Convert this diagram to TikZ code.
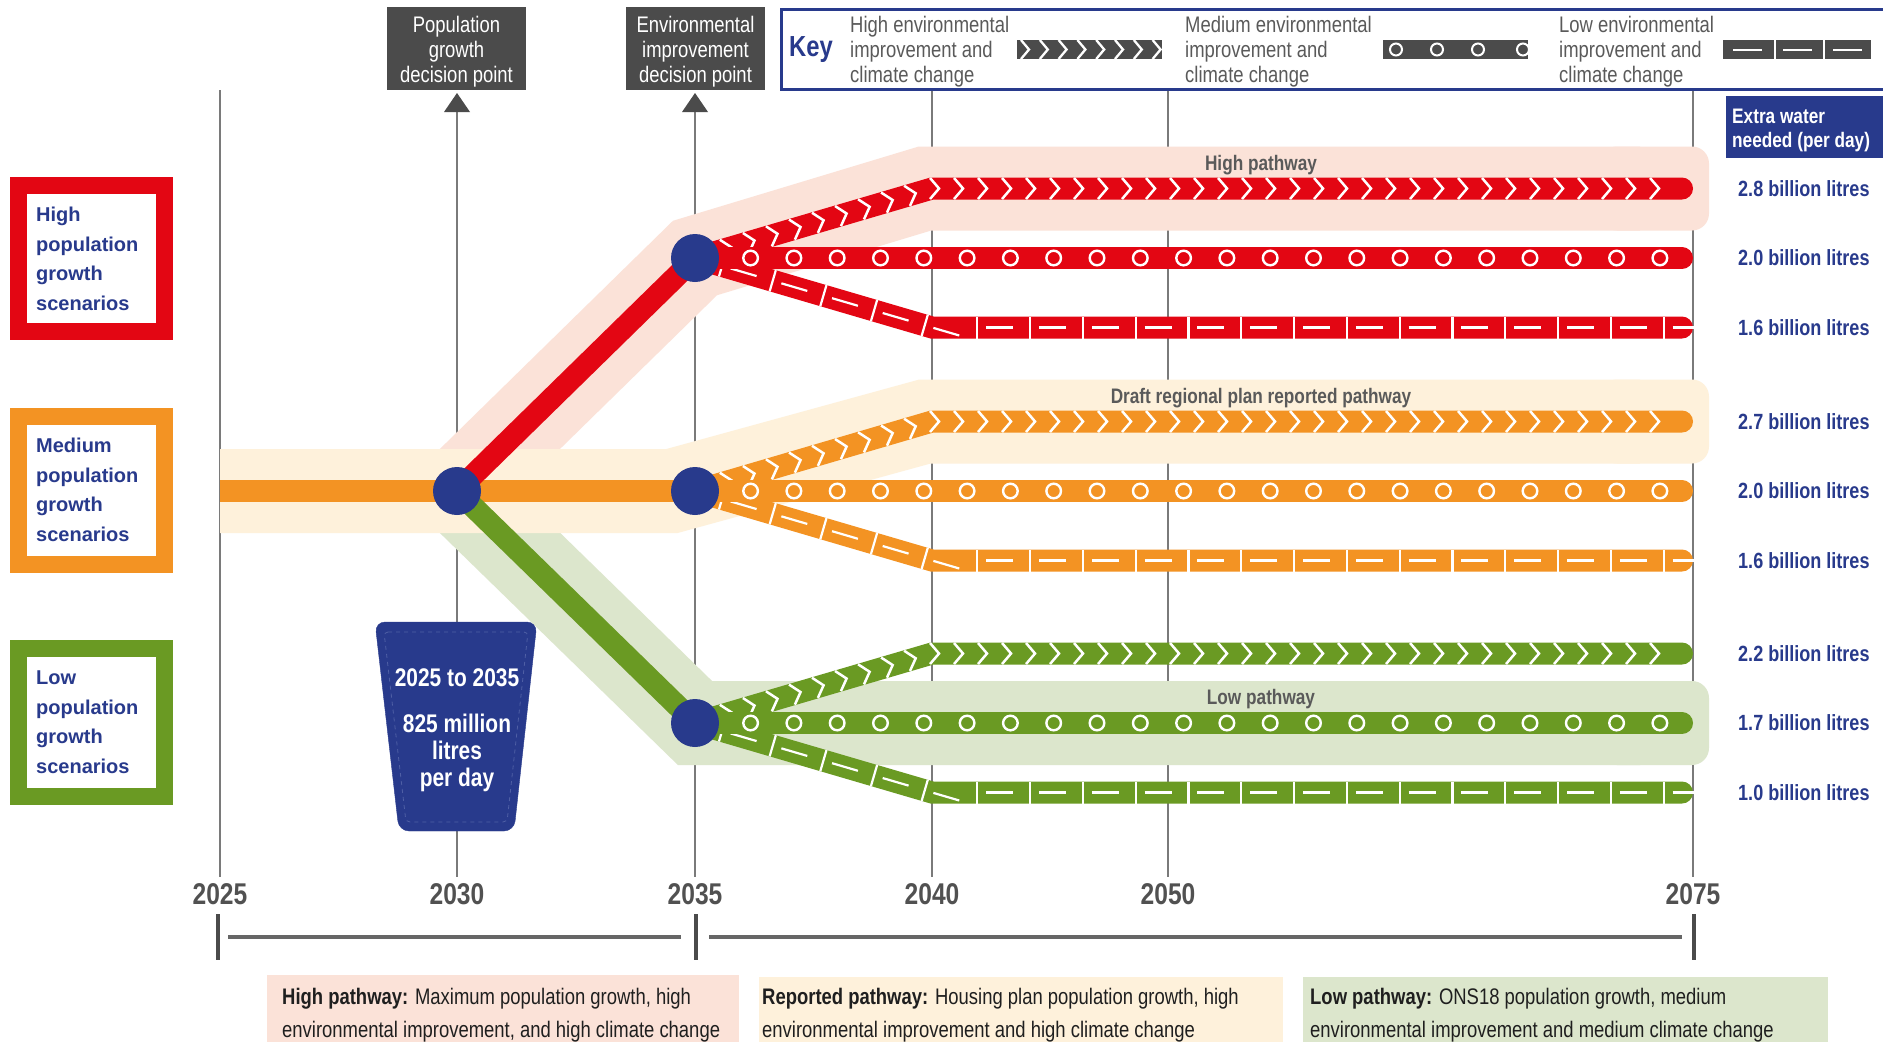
\documentclass[tikz,border=0pt]{standalone}
\usepackage{fontspec}
\setmainfont{Liberation Sans}
\newfontfamily\cond[FakeStretch=0.82]{Liberation Sans}
\usetikzlibrary{decorations.markings,calc}
\definecolor{cred}{HTML}{E30613}
\definecolor{corange}{HTML}{F39323}
\definecolor{cgreen}{HTML}{6A9A23}
\definecolor{cnavy}{HTML}{283A8C}
\definecolor{bpink}{HTML}{FBE2D8}
\definecolor{borange}{HTML}{FEF1DB}
\definecolor{bgreen}{HTML}{DCE6CC}
\definecolor{cdark}{HTML}{4B4B4B}
\definecolor{ctext}{HTML}{5A5A5A}
\definecolor{cgrid}{HTML}{7A7A7A}
\definecolor{cdash}{HTML}{4F5FA5}
\begin{document}
\begin{tikzpicture}[x=1pt,y=-1pt,
  gridline/.style={draw=cgrid, line width=1.6pt},
  band/.style={line width=84pt, line join=miter, line cap=butt},
  mainline/.style={line width=22pt, line cap=butt},
  pline/.style={line width=22pt, line cap=round, line join=miter},
  chevline/.style={pline, postaction={decorate, decoration={markings,
     mark=between positions 34pt and 985pt step 24pt with {\draw[white, line width=2.5pt, line cap=butt, line join=miter] (-5pt,10.5pt) -- (4pt,0pt) -- (-5pt,-10.5pt);}}}},
  circline/.style={pline, postaction={decorate, decoration={markings,
     mark=between positions 55.6pt and 970pt step 43.3pt with {\draw[white, line width=2.4pt] (0pt,0pt) circle (7.3pt);}}}},
  dashline/.style={pline, postaction={decorate, decoration={markings,
     mark=between positions 28.2pt and 992pt step 52.8pt with {\draw[white, line width=2.2pt, line cap=butt] (0pt,-11pt) -- (0pt,11pt); \draw[white, line width=2.2pt, line cap=butt] (9pt,0pt) -- (36pt,0pt);}}}},
  dpoint/.style={circle, fill=cnavy, minimum size=48pt, inner sep=0pt},
  decbox/.style={fill=cdark, minimum width=139pt, minimum height=83pt, inner sep=0pt},
  dectxt/.style={text=white, inner sep=0pt, align=center, font={\cond\fontsize{22.5}{25}\selectfont}},
  keyttl/.style={text=cnavy, inner sep=0pt, font={\cond\bfseries\fontsize{29}{32}\selectfont}},
  keytxt/.style={text=ctext, anchor=west, align=left, inner sep=0pt, font={\cond\fontsize{22.5}{25}\selectfont}},
  hdrtxt/.style={text=white, anchor=west, align=left, inner sep=0pt, font={\cond\bfseries\fontsize{21}{24}\selectfont}},
  rlbl/.style={text=cnavy, anchor=west, inner sep=0pt, font={\cond\bfseries\fontsize{22}{25}\selectfont}},
  bandlbl/.style={text=ctext, inner sep=0pt, font={\cond\bfseries\fontsize{21}{24}\selectfont}},
  scenbox/.style={line width=17pt, fill=white},
  scentxt/.style={text=cnavy, anchor=west, align=left, inner sep=0pt, font={\bfseries\fontsize{20}{29.5}\selectfont}},
  buckettxt/.style={text=white, align=center, inner sep=0pt, font={\cond\bfseries\fontsize{25.5}{27}\selectfont}},
  yearlbl/.style={text=ctext!90!black, inner sep=0pt, font={\cond\bfseries\fontsize{30}{32}\selectfont}},
  axtick/.style={draw=cdark, line width=4pt},
  axline/.style={draw=cdark!85, line width=3.5pt},
  bottxt/.style={text=black!88, anchor=west, align=left, inner sep=0pt, font={\cond\fontsize{22.5}{32.5}\selectfont}}
]
\useasboundingbox (0,0) rectangle (1883,1042);
\fill[white] (0,0) rectangle (1883,1042);

% key points
\coordinate (s25) at (220,491);
\coordinate (p30) at (457,491);
\coordinate (pH) at (695,258);
\coordinate (pM) at (695,491);
\coordinate (pL) at (695,723);

% year grid lines
\foreach \x/\t in {220/90,457/112,695/112,932/90,1168/90,1693/90}
  \draw[gridline] (\x,\t) -- (\x,877);

% pathway bands
\draw[band, draw=bpink] (p30) -- (pH) -- (925,188.5) -- (1640,188.5);
\fill[bpink, rounded corners=17pt] (1600,146.5) rectangle (1709,230.5);
\draw[band, draw=bgreen] (p30) -- (pL) -- (1640,723);
\fill[bgreen, rounded corners=17pt] (1600,681) rectangle (1709,765);
\draw[band, draw=borange] (s25) -- (672,491) -- (925,421.5) -- (1640,421.5);
\fill[borange, rounded corners=17pt] (1600,379.5) rectangle (1709,463.5);

\node[bandlbl] (lh) at (1261,165.5) {High pathway};
\node[bandlbl] (lm) at (1261,398.5) {Draft regional plan reported pathway};
\node[bandlbl] (ll) at (1261,699) {Low pathway};

% trunk lines
\draw[mainline, draw=corange] (s25) -- (pM);
\draw[mainline, draw=cred] (p30) -- (pH);
\draw[mainline, draw=cgreen] (p30) -- (pL);

% branch lines
\foreach \c/\n in {cred/pH, corange/pM, cgreen/pL} {
  \draw[chevline, draw=\c] (\n) -- ($(\n)+(237,-69.5)$) -- ($(\n)+(987,-69.5)$);
  \draw[dashline, draw=\c] (\n) -- ($(\n)+(237,69.5)$) -- ($(\n)+(987,69.5)$);
  \draw[circline, draw=\c] (\n) -- ($(\n)+(987,0)$);
}

% decision points
\foreach \n in {p30,pH,pM,pL} \node[dpoint] (n\n) at (\n) {};

% top decision boxes
\node[decbox] (dpop) at (456.5,48.5) {};
\node[dectxt] (dpopt) at (456.5,52) {Population\\growth\\decision point};
\node[decbox] (denv) at (695.5,48.5) {};
\node[dectxt] (denvt) at (695.5,52) {Environmental\\improvement\\decision point};
\fill[cdark] (457,93) -- (470,112) -- (444,112) -- cycle;
\fill[cdark] (695,93) -- (708,112) -- (682,112) -- cycle;

% key
\draw[cnavy, line width=3pt] (1895,9.5) -- (781,9.5) -- (781,89) -- (1895,89);
\node[keyttl] (key) at (811,50) {Key};
\node[keytxt] (k1) at (850,51.5) {High environmental\\improvement and\\climate change};
\node[keytxt] (k2) at (1185,51.5) {Medium environmental\\improvement and\\climate change};
\node[keytxt] (k3) at (1559,51.5) {Low environmental\\improvement and\\climate change};
\fill[cdark] (1017,40) rectangle (1162,59);
\foreach \i in {0,...,7}
  \draw[white, line width=2.3pt, line join=miter] (1021+18.8*\i,40) -- (1029+18.8*\i,49.5) -- (1021+18.8*\i,59);
\begin{scope}
  \clip (1383,40) rectangle (1528,59);
  \fill[cdark] (1383,40) rectangle (1528,59);
  \foreach \xx in {1396,1437,1478,1523}
    \draw[white, line width=2pt] (\xx,49.5) circle (6pt);
\end{scope}
\fill[cdark] (1723,40) rectangle (1871,59);
\foreach \xx in {1775,1824} \draw[white, line width=2.5pt] (\xx,40) -- (\xx,59);
\foreach \xx in {1733,1783,1833} \draw[white, line width=2pt] (\xx,49.5) -- (\xx+29,49.5);

% extra water header
\fill[cnavy] (1726,96) rectangle (1883,158);
\node[hdrtxt] (hdr) at (1732,130) {Extra water\\needed (per day)};

% right labels
\foreach \y/\t [count=\i] in {188.5/2.8, 258/2.0, 327.5/1.6, 421.5/2.7, 491/2.0, 560.5/1.6, 653.5/2.2, 723/1.7, 792.5/1.0}
  \node[rlbl] (r\i) at (1738,\y) {\t\ billion litres};

% scenario boxes
\draw[scenbox, draw=cred] (18,185) rectangle (164.5,331.5);
\node[scentxt] (sh) at (36,259) {High\\population\\growth\\scenarios};
\draw[scenbox, draw=corange] (18,416.5) rectangle (164.5,564.5);
\node[scentxt] (sm) at (36,490) {Medium\\population\\growth\\scenarios};
\draw[scenbox, draw=cgreen] (18,648.5) rectangle (164.5,796.5);
\node[scentxt] (sl) at (36,722) {Low\\population\\growth\\scenarios};

% bucket
\filldraw[fill=cnavy, draw=cnavy, rounded corners=10pt] (375,622) -- (537,622) -- (514,831) -- (399,831) -- cycle;
\draw[cdash, line width=0.8pt, dash pattern=on 4pt off 4pt, rounded corners=4pt] (384,632) -- (528,632) -- (507,822) -- (406,822) -- cycle;
\node[buckettxt] (b1) at (457,678) {2025 to 2035};
\node[buckettxt] (b2) at (457,753) {825 million\\litres\\per day};

% years
\foreach \x/\t in {220/2025, 457/2030, 695/2035, 932/2040, 1168/2050, 1693/2075}
  \node[yearlbl] (y\t) at (\x,894.5) {\t};

% bottom axis
\foreach \x in {218,696,1694} \draw[axtick] (\x,914) -- (\x,960);
\draw[axline] (228,937) -- (681,937);
\draw[axline] (709,937) -- (1682,937);

% bottom notes
\fill[bpink] (267,975) rectangle (739,1042);
\fill[borange] (759,977) rectangle (1283,1042);
\fill[bgreen] (1303,977) rectangle (1828,1042);
\node[bottxt] (t1) at (282,1015) {\textbf{High pathway:} Maximum population growth, high\\environmental improvement, and high climate change};
\node[bottxt] (t2) at (762,1015) {\textbf{Reported pathway:} Housing plan population growth, high\\environmental improvement and high climate change};
\node[bottxt] (t3) at (1310,1015) {\textbf{Low pathway:} ONS18 population growth, medium\\environmental improvement and medium climate change};
\end{tikzpicture}
\end{document}
